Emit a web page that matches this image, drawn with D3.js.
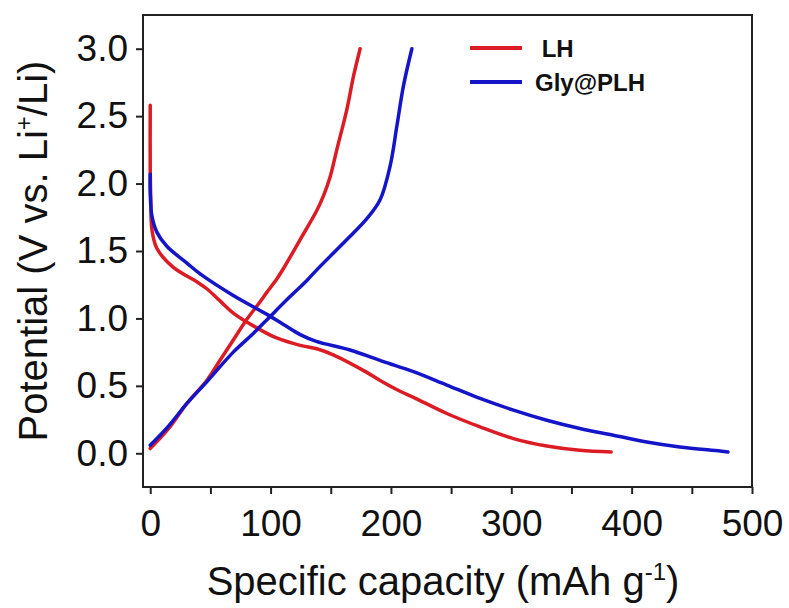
<!DOCTYPE html>
<html>
<head>
<meta charset="utf-8">
<script src="https://cdn.jsdelivr.net/npm/d3@7"></script>
<style>
  body { margin: 0; background: #fff; }
  text { font-family: "Liberation Sans", Arial, sans-serif; fill: #111; }
</style>
</head>
<body>
<div id="chart"></div>
<script>
/*------------------------------
 DATA
 ----------------------------*/
const LH_DIS_CAP = [0, 0, 0.5, 1.4, 5.5, 19, 39, 47, 58, 69, 88.6, 105, 124.6, 138.4, 152, 180, 191, 207.6, 218.7, 246.4, 274, 301.8, 329.5, 357, 383];
const LH_DIS_V   = [2.58, 2.1, 1.88, 1.66, 1.52, 1.38, 1.27, 1.22, 1.13, 1.04, 0.93, 0.855, 0.80, 0.775, 0.73, 0.60, 0.54, 0.46, 0.415, 0.295, 0.196, 0.109, 0.054, 0.022, 0.01];

const LH_CHG_CAP = [0, 15, 30.5, 47, 58, 69, 80, 91, 97, 105, 110.7, 124.6, 138.4, 144, 149.5, 155, 163.4, 169, 174.4];
const LH_CHG_V   = [0.035, 0.18, 0.37, 0.54, 0.69, 0.84, 0.99, 1.12, 1.195, 1.29, 1.37, 1.585, 1.80, 1.91, 2.05, 2.25, 2.55, 2.80, 3.0];

const GLY_DIS_CAP = [0, 0, 1.4, 5.5, 13.8, 30.5, 41.5, 69, 97, 110.7, 124.6, 138, 166, 193.8, 218.7, 246.4, 274, 301.8, 329.5, 357, 384.8, 412.5, 440, 473.4, 480];
const GLY_DIS_V   = [2.07, 1.93, 1.76, 1.64, 1.535, 1.41, 1.33, 1.17, 1.03, 0.955, 0.88, 0.83, 0.766, 0.68, 0.605, 0.506, 0.407, 0.32, 0.245, 0.184, 0.134, 0.084, 0.047, 0.017, 0.01];

const GLY_CHG_CAP = [0, 15, 30.5, 47, 69, 85.8, 99.7, 116, 130, 138.4, 163.4, 180, 191, 199.3, 205, 210.4, 217.4];
const GLY_CHG_V   = [0.06, 0.2, 0.37, 0.53, 0.75, 0.89, 1.015, 1.16, 1.28, 1.36, 1.585, 1.74, 1.88, 2.13, 2.43, 2.725, 3.0];

const X_TICKS = d3.range(0, 501, 50);
const Y_TICKS = [0, 0.5, 1.0, 1.5, 2.0, 2.5, 3.0];

const SERIES = [
  {name: " LH", color: "#dc1c24", curves: [[LH_DIS_CAP, LH_DIS_V], [LH_CHG_CAP, LH_CHG_V]]},
  {name: "Gly@PLH", color: "#1414c8", curves: [[GLY_DIS_CAP, GLY_DIS_V], [GLY_CHG_CAP, GLY_CHG_V]]}
];

/*------------------------------
 LAYOUT
 ----------------------------*/
const SVG_WIDTH = 789;
const SVG_HEIGHT = 608;
const FRAME = {left: 143, right: 752, top: 15, bottom: 487};

const svg = d3.select("#chart").append("svg")
  .attr("width", SVG_WIDTH)
  .attr("height", SVG_HEIGHT);

const x = d3.scaleLinear().domain([-6, 500]).range([FRAME.left, FRAME.right]);
const y = d3.scaleLinear().domain([-0.25, 3.25]).range([FRAME.bottom, FRAME.top]);

// curves
const line = d3.line()
  .x(d => x(d[0]))
  .y(d => y(d[1]))
  .curve(d3.curveCatmullRom.alpha(0.5));

SERIES.forEach(s => {
  s.curves.forEach(([caps, vs]) => {
    svg.append("path")
      .datum(caps.map((c, i) => [c, vs[i]]))
      .attr("d", line)
      .attr("fill", "none")
      .attr("stroke", s.color)
      .attr("stroke-width", 3.5)
      .attr("stroke-linejoin", "round")
      .attr("stroke-linecap", "round");
  });
});

// frame
svg.append("rect")
  .attr("x", FRAME.left)
  .attr("y", FRAME.top)
  .attr("width", FRAME.right - FRAME.left)
  .attr("height", FRAME.bottom - FRAME.top)
  .attr("fill", "none")
  .attr("stroke", "#222")
  .attr("stroke-width", 2);

// axes
const bottomAxis = d3.axisBottom(x)
  .tickValues(X_TICKS)
  .tickSize(7)
  .tickPadding(16)
  .tickSizeOuter(0)
  .tickFormat(d => d % 100 === 0 ? d : "");
const leftAxis = d3.axisLeft(y)
  .tickValues(Y_TICKS)
  .tickSize(7)
  .tickPadding(8)
  .tickSizeOuter(0)
  .tickFormat(d3.format(".1f"));

const xAxis = svg.append("g")
  .attr("transform", `translate(0, ${FRAME.bottom})`)
  .call(bottomAxis);
const yAxis = svg.append("g")
  .attr("transform", `translate(${FRAME.left}, 0)`)
  .call(leftAxis);

[xAxis, yAxis].forEach(ax => {
  ax.select(".domain").remove();
  ax.selectAll(".tick line").attr("stroke", "#222").attr("stroke-width", 2);
  ax.selectAll(".tick text")
    .attr("font-family", "'Liberation Sans', Arial, sans-serif")
    .attr("font-size", 37)
    .attr("fill", "#111");
});

// axis titles
const xTitle = svg.append("text")
  .attr("x", 443)
  .attr("y", 595)
  .attr("text-anchor", "middle")
  .attr("font-size", 40);
xTitle.append("tspan").text("Specific capacity (mAh g");
xTitle.append("tspan").text("-1").attr("font-size", 24).attr("dy", -15);
xTitle.append("tspan").text(")").attr("dy", 15);

const yTitle = svg.append("text")
  .attr("transform", "translate(47, 251) rotate(-90)")
  .attr("text-anchor", "middle")
  .attr("font-size", 40);
yTitle.append("tspan").text("Potential (V vs. Li");
yTitle.append("tspan").text("+").attr("font-size", 24).attr("dy", -15);
yTitle.append("tspan").text("/Li)").attr("dy", 15);

// legend
const legend = svg.append("g");
SERIES.forEach((s, i) => {
  const ly = 48 + i * 34;
  legend.append("line")
    .attr("x1", 470).attr("x2", 522)
    .attr("y1", ly).attr("y2", ly)
    .attr("stroke", s.color)
    .attr("stroke-width", 4);
  legend.append("text")
    .attr("x", 535)
    .attr("y", ly + 9)
    .attr("font-size", 24)
    .attr("font-weight", "bold")
    .attr("xml:space", "preserve")
    .style("white-space", "pre")
    .text(s.name);
});
</script>
</body>
</html>
